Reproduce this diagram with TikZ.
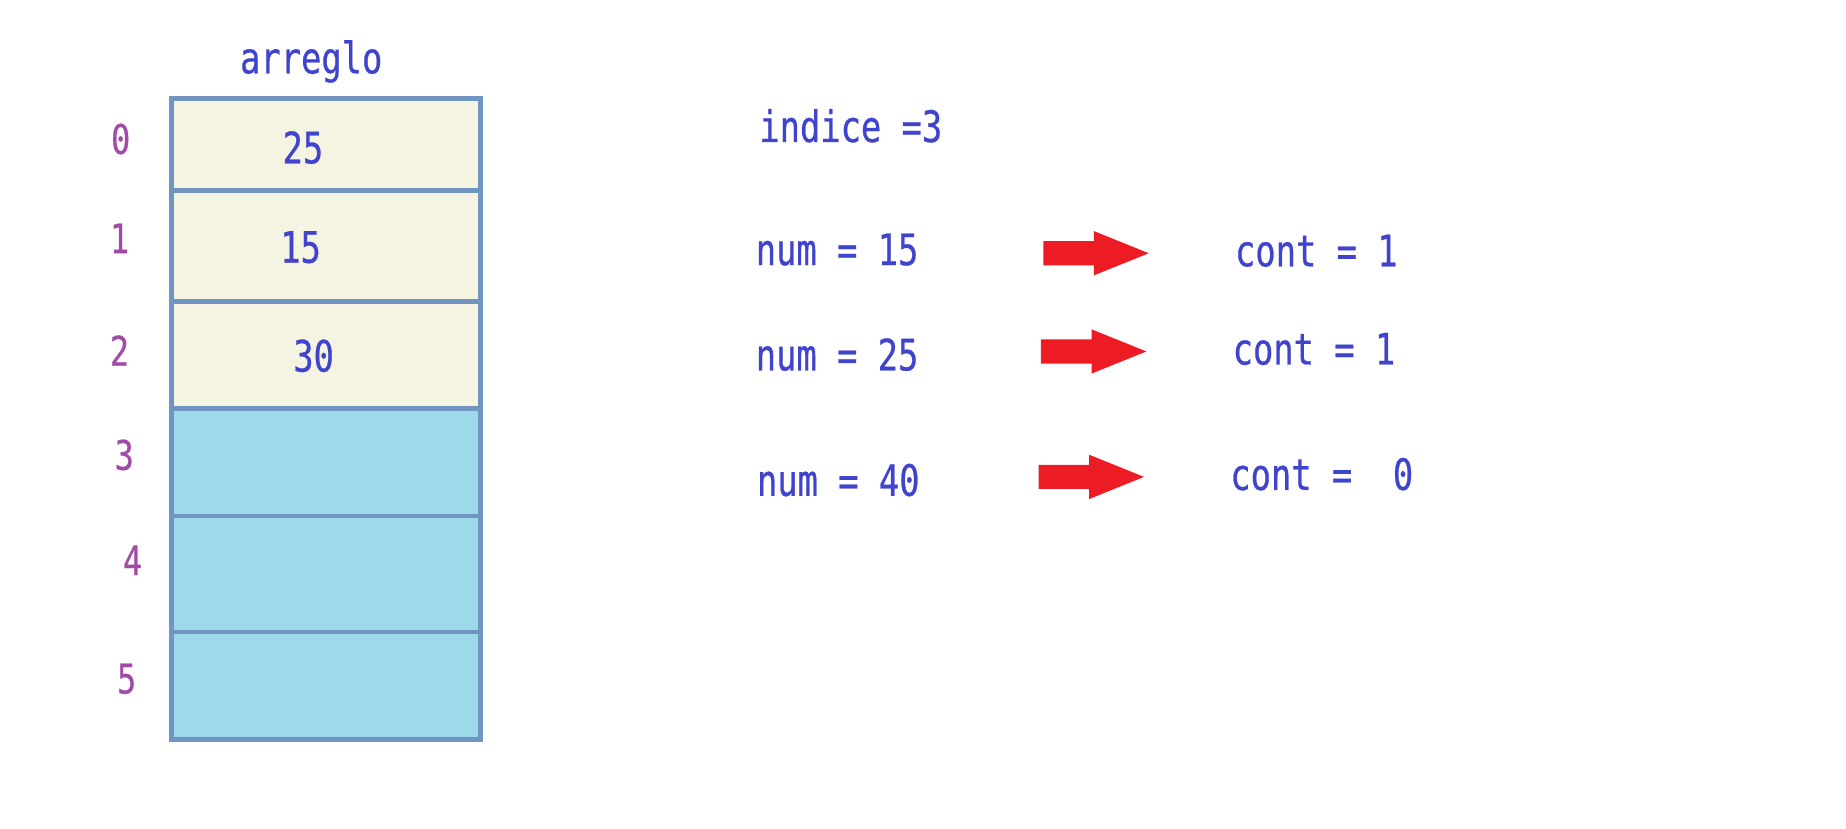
\documentclass[tikz,border=0pt]{standalone}
\usepackage{fontspec}
\usetikzlibrary{shapes.arrows}
\newfontfamily\monof[FakeStretch=0.78,FakeBold=0.6]{DejaVu Sans Mono}
\definecolor{txtblue}{HTML}{4043CC}
\definecolor{idxpurple}{HTML}{A24BA6}
\definecolor{cellborder}{HTML}{7095C0}
\definecolor{beige}{HTML}{F5F3E2}
\definecolor{lightblue}{HTML}{9DD9EA}
\definecolor{arrred}{HTML}{ED1C24}
\tikzset{
  lbl/.style={font=\monof\fontsize{10.4}{12}\selectfont, text=txtblue, inner sep=0pt},
  idx/.style={font=\monof\fontsize{9.8}{11}\selectfont, text=idxpurple, inner sep=0pt, anchor=base},
  cellA/.style={draw=cellborder, line width=1.1pt, fill=beige},
  cellB/.style={draw=cellborder, line width=1.1pt, fill=lightblue},
  bigarrow/.style={single arrow, fill=arrred, draw=none, minimum height=0.89cm,
    inner xsep=0pt, inner ysep=0.095cm, text width=0pt,
    single arrow head extend=0.085cm, single arrow head indent=0pt, single arrow tip angle=44, anchor=west}
}
\begin{document}
\begin{tikzpicture}[x=0.01cm,y=-0.01cm]
\useasboundingbox (0,0) rectangle (1560,700);
% array cells
\draw[cellA] (145,83) rectangle (406,161);
\draw[cellA] (145,161) rectangle (406,255);
\draw[cellA] (145,255) rectangle (406,345);
\draw[cellB] (145,345) rectangle (406,436);
\draw[cellB] (145,436) rectangle (406,534);
\draw[cellB] (145,534) rectangle (406,625);
\node[lbl, anchor=base] (arr) at (263,62) {arreglo};
% values
\node[lbl, anchor=base] (v0) at (256,138) {25};
\node[lbl, anchor=base] (v1) at (254,222) {15};
\node[lbl, anchor=base] (v2) at (265,314) {30};
% indices
\node[idx] (i0) at (102,130) {0};
\node[idx] (i1) at (101,214) {1};
\node[idx] (i2) at (101,309) {2};
\node[idx] (i3) at (105,397) {3};
\node[idx] (i4) at (112,486) {4};
\node[idx] (i5) at (107,586) {5};
% right side
\node[lbl, anchor=base west] (ind) at (641,120) {indice =3};
\node[lbl, anchor=base west] (n1) at (638,224) {num = 15};
\node[lbl, anchor=base west] (n2) at (638,313) {num = 25};
\node[lbl, anchor=base west] (n3) at (639,419) {num = 40};
\node[lbl, anchor=base west] (c1) at (1043,225) {cont = 1};
\node[lbl, anchor=base west] (c2) at (1041,308) {cont = 1};
\node[lbl, anchor=base west] (c3) at (1039,414) {cont =\ \ 0};
\node[bigarrow] (a1) at (881,214) {};
\node[bigarrow] (a2) at (879,297) {};
\node[bigarrow] (a3) at (877,403) {};
\end{tikzpicture}
\end{document}
